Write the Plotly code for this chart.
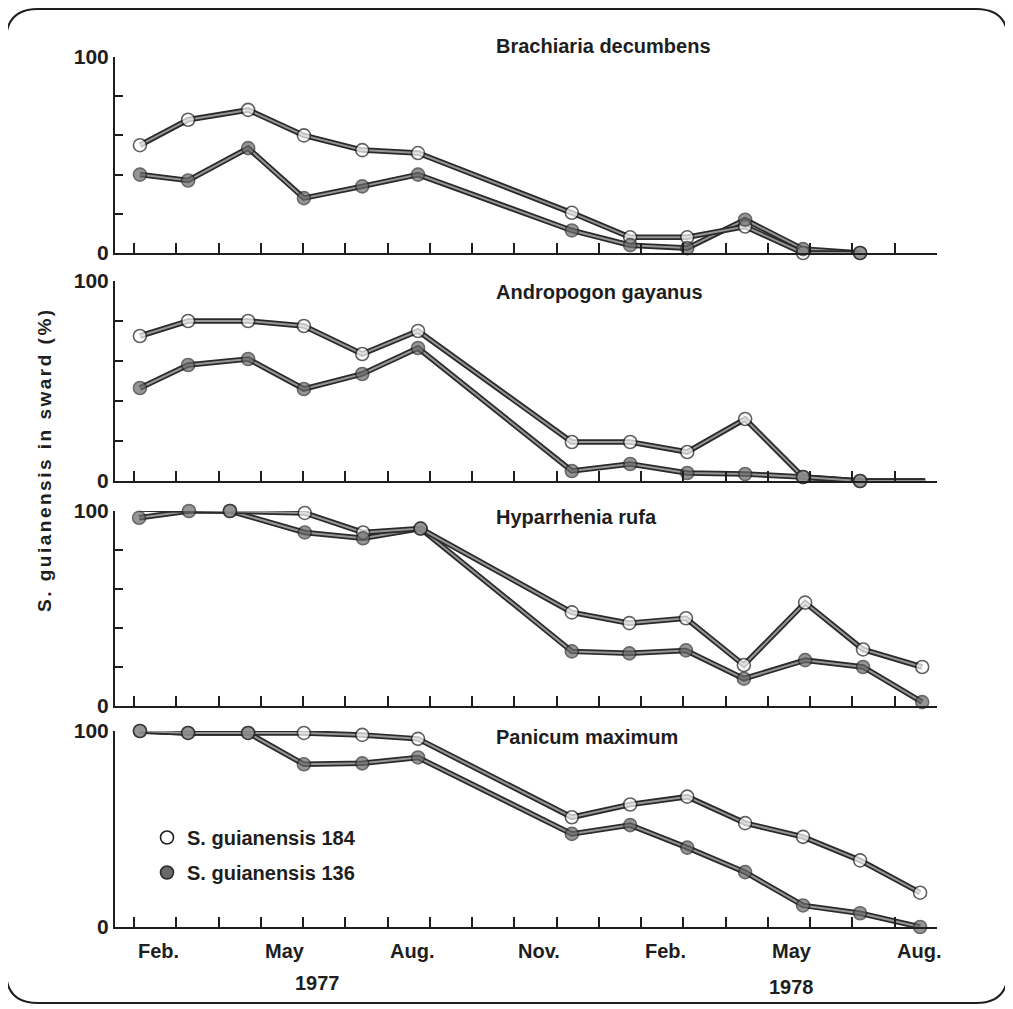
import plotly.graph_objects as go

# ---------------- data (x = months since 1 Feb 1977) ----------------
panel_titles = ["Brachiaria decumbens", "Andropogon gayanus", "Hyparrhenia rufa", "Panicum maximum"]

x_brach = [0.14, 1.28, 2.70, 4.02, 5.40, 6.72, 10.36, 11.74, 13.09, 14.46, 15.83, 17.18]
brach_184 = [55, 68, 73, 60, 52.5, 51, 20.5, 8, 8, 13.5, 0, 0]
brach_136 = [40, 37, 53.5, 28, 34, 40, 11.5, 4, 2.5, 17, 2, 0]

x_andro = [0.14, 1.28, 2.70, 4.02, 5.40, 6.72, 10.36, 11.74, 13.09, 14.46, 15.83, 17.18, 18.72]
andro_184 = [72.5, 80, 80, 77.5, 63.5, 75, 19.5, 19.5, 14.5, 31, 2, 0, 0]
andro_136 = [46.5, 58, 61, 46, 53.5, 66.5, 5, 8.5, 4, 3.5, 2, 0, 0]

x_hypar = [0.12, 1.30, 2.27, 4.04, 5.42, 6.78, 10.36, 11.72, 13.06, 14.43, 15.88, 17.25, 18.65]
hypar_184 = [101, 100.5, 100, 99, 89, 91, 48, 42.5, 45, 21, 53, 29, 20]
hypar_136 = [96.5, 100, 100, 89, 86, 91, 28, 27, 28.5, 14, 23.5, 20, 2]

x_panic = [0.14, 1.28, 2.70, 4.02, 5.40, 6.72, 10.36, 11.74, 13.09, 14.46, 15.83, 17.18, 18.60]
panic_184 = [100, 99, 99, 99, 98, 96, 56, 62.5, 66.5, 53, 46, 34, 17.5]
panic_136 = [100, 99, 99, 83, 83.5, 86.5, 47.5, 52, 40.5, 28, 11, 7, 0]

month_labels = ["Feb.", "May", "Aug.", "Nov.", "Feb.", "May", "Aug."]
month_pos = [0, 3, 6, 9, 12, 15, 18]
year_labels = ["1977", "1978"]
series_names = ["S. guianensis 184", "S. guianensis 136"]
y_title = "S. guianensis in sward (%)"

panels = [
    (x_brach, brach_184, brach_136),
    (x_andro, andro_184, andro_136),
    (x_hypar, hypar_184, hypar_136),
    (x_panic, panic_184, panic_136),
]

# ---------------- layout geometry (target page pixels) ----------------
W, H = 1013, 1009
OFF = 8  # page body margin
FONT = "Liberation Sans, Arial, sans-serif"
INK = "#1e1e1e"
x_left_px, x_right_px = 115, 937
x_range = [-0.45, 19.0]
y_px = [(253, 57), (481, 281), (706, 511), (927, 731)]   # (pixel of 0, pixel of 100)
title_y_px = [46, 292, 517, 737]


def px(p):
    return (p - OFF) / W


def py(p):
    return 1 - (p - OFF) / H


fig = go.Figure()

for i, (xs, s184, s136) in enumerate(panels):
    ax = "" if i == 0 else str(i + 1)
    xa, ya = "x" + ax, "y" + ax
    n = len(xs)
    sizes = [13] * n
    if i == 1:
        sizes[-1] = 0
    for ys in (s136, s184):
        fig.add_trace(go.Scatter(x=xs, y=ys, mode="lines", xaxis=xa, yaxis=ya,
                                 line=dict(color="#2a2a2a", width=5.5), showlegend=False,
                                 hoverinfo="skip", cliponaxis=False))
        fig.add_trace(go.Scatter(x=xs, y=ys, mode="lines", xaxis=xa, yaxis=ya,
                                 line=dict(color="#969696", width=2), showlegend=False,
                                 hoverinfo="skip", cliponaxis=False))
    fig.add_trace(go.Scatter(x=xs, y=s184, mode="markers", xaxis=xa, yaxis=ya,
                             marker=dict(size=sizes, color="white", line=dict(color=INK, width=1.6)),
                             showlegend=False, cliponaxis=False, name=series_names[0]))
    fig.add_trace(go.Scatter(x=xs, y=s136, mode="markers", xaxis=xa, yaxis=ya,
                             marker=dict(size=sizes, color="#6a6a6a", line=dict(color="#2a2a2a", width=1.6)),
                             showlegend=False, cliponaxis=False, name=series_names[1]))

    y0, y100 = y_px[i]
    minor = i < 3
    fig.update_layout(**{
        ("xaxis" if i == 0 else "xaxis" + ax): dict(
            domain=[px(x_left_px), px(x_right_px)], range=x_range, anchor=ya,
            showline=True, linecolor=INK, linewidth=2,
            tickmode="array", tickvals=list(range(0, 20)), ticks="inside",
            ticklen=10, tickwidth=1.6, tickcolor=INK, showticklabels=False,
            showgrid=False, zeroline=False, fixedrange=True, automargin=False),
        ("yaxis" if i == 0 else "yaxis" + ax): dict(
            domain=[py(y0), py(y100)], range=[0, 100], anchor=xa,
            showline=True, linecolor=INK, linewidth=2,
            tickmode="array",
            tickvals=[0, 20, 40, 60, 80, 100] if minor else [0, 100],
            ticktext=["<b>0</b>", "", "", "", "", "<b>100</b>"] if minor else ["<b>0</b>", "<b>100</b>"],
            ticks="inside" if minor else "", ticklen=8, tickwidth=1.6, tickcolor=INK,
            tickfont=dict(family=FONT, size=21, color=INK),
            showgrid=False, zeroline=False, fixedrange=True, automargin=False),
    })
    fig.add_annotation(text="<b>" + panel_titles[i] + "</b>", xref="paper", yref="paper",
                       x=px(494), y=py(title_y_px[i]), xanchor="left", yanchor="middle",
                       showarrow=False, font=dict(family=FONT, size=20, color=INK))

# legend entries (marker only)
fig.add_trace(go.Scatter(x=[None], y=[None], mode="markers", name="<b>" + series_names[0] + "</b>",
                         marker=dict(size=13, color="white", line=dict(color=INK, width=1.6)),
                         xaxis="x4", yaxis="y4", legendgroup="a"))
fig.add_trace(go.Scatter(x=[None], y=[None], mode="markers", name="<b>" + series_names[1] + "</b>",
                         marker=dict(size=13, color="#6a6a6a", line=dict(color="#2a2a2a", width=1.6)),
                         xaxis="x4", yaxis="y4", legendgroup="b"))

# month labels
for lab, m in zip(month_labels, month_pos):
    fig.add_annotation(text="<b>" + lab + "</b>", xref="x4", yref="paper", x=m + 0.5, y=py(951),
                       xanchor="center", yanchor="middle", xshift=3, showarrow=False,
                       font=dict(family=FONT, size=20, color=INK))
# year labels
for lab, xp, yp in zip(year_labels, [317, 791], [983, 987]):
    fig.add_annotation(text="<b>" + lab + "</b>", xref="paper", yref="paper", x=px(xp), y=py(yp),
                       xanchor="center", yanchor="middle", showarrow=False,
                       font=dict(family=FONT, size=20, color=INK))
# y axis title
fig.add_annotation(text="<b><span style='letter-spacing:2.5px'>" + y_title + "</span></b>",
                   xref="paper", yref="paper", x=px(44), y=py(460),
                   xanchor="center", yanchor="middle", textangle=-90, showarrow=False,
                   font=dict(family=FONT, size=19, color=INK))

# rounded frame
l, r, t, b, rad = px(6), px(1008), py(9), py(1003), 32
rx, ry = rad / W, rad / H
path = (f"M {l+rx},{t} L {r-rx},{t} Q {r},{t} {r},{t-ry} L {r},{b+ry} Q {r},{b} {r-rx},{b} "
        f"L {l+rx},{b} Q {l},{b} {l},{b+ry} L {l},{t-ry} Q {l},{t} {l+rx},{t} Z")
fig.add_shape(type="path", path=path, xref="paper", yref="paper",
              line=dict(color=INK, width=2), fillcolor="rgba(0,0,0,0)")

fig.update_layout(
    width=W, height=H, margin=dict(l=0, r=0, t=0, b=0, autoexpand=False),
    paper_bgcolor="white", plot_bgcolor="white",
    showlegend=True,
    legend=dict(x=px(147), y=py(818), xanchor="left", yanchor="top",
                font=dict(family=FONT, size=20, color=INK), tracegroupgap=6,
                bgcolor="rgba(0,0,0,0)", itemwidth=30),
    font=dict(family=FONT, color=INK),
)

fig.write_html("out.html")
